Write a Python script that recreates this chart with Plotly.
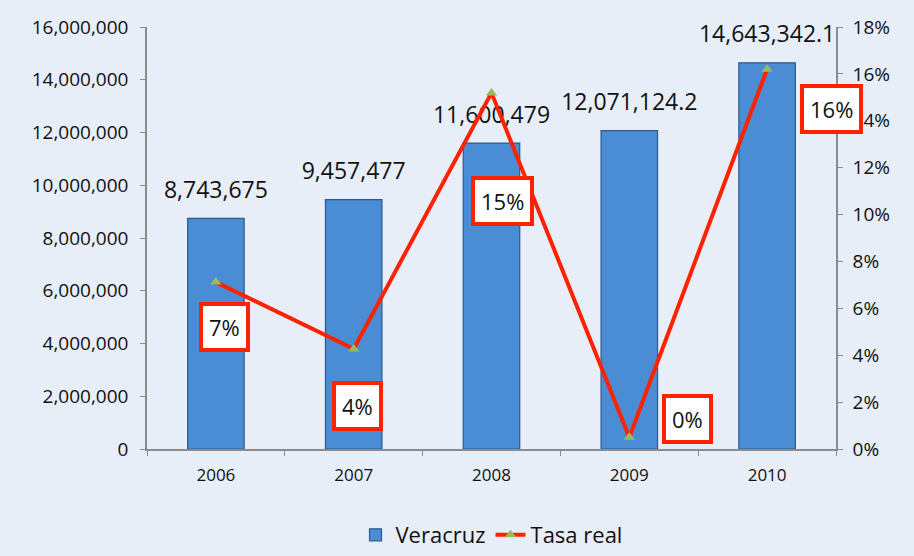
import plotly.graph_objects as go

years = ["2006", "2007", "2008", "2009", "2010"]
veracruz = [8743675, 9457477, 11600479, 12071124.2, 14643342.1]
tasa_real = [0.0712, 0.0427, 0.1519, 0.0050, 0.1620]
bar_labels = ["8,743,675", "9,457,477", "11,600,479", "12,071,124.2", "14,643,342.1"]
pct_labels = ["7%", "4%", "15%", "0%", "16%"]
# label box offsets (px) relative to each line point
box_dx = [9, 4, 11, 58, 64]
box_dy = [-45, -57, -108, 18, -40]

FONT = "Open Sans"
fig = go.Figure()

fig.add_trace(go.Bar(
    x=years, y=veracruz, name="Veracruz", width=0.41,
    marker=dict(color="#4a8dd4", line=dict(color="#2a5a90", width=1.2)),
    yaxis="y",
))
fig.add_trace(go.Scatter(
    x=years, y=veracruz, mode="markers+text", text=bar_labels,
    textposition="top center", showlegend=False, hoverinfo="skip",
    marker=dict(size=22, opacity=0),
    textfont=dict(family=FONT, size=23, color="#111111"),
    yaxis="y", cliponaxis=False,
))
fig.add_trace(go.Scatter(
    x=years, y=tasa_real, name="Tasa real", mode="lines+markers",
    line=dict(color="#ff2200", width=4),
    marker=dict(symbol="triangle-up", size=10, color="#9bbb59"),
    yaxis="y2", cliponaxis=False,
))

for i, (yv, t, dx, dy) in enumerate(zip(tasa_real, pct_labels, box_dx, box_dy)):
    fig.add_annotation(
        x=i, y=yv, xref="x", yref="y2", text=t, showarrow=False,
        xshift=dx, yshift=dy,
        font=dict(family=FONT, size=22, color="#111111"),
        bgcolor="white", bordercolor="#ff2200", borderwidth=4, borderpad=6,
    )

axis_col = "#8c8c8c"
fig.update_layout(
    width=914, height=556,
    margin=dict(l=147, r=78, t=27, b=107, autoexpand=False),
    paper_bgcolor="#e8eef8", plot_bgcolor="#e8eef8",
    font=dict(family=FONT, size=16, color="#111111"),
    xaxis=dict(
        type="category", tickangle=0, range=[-0.5, len(years) - 0.5],
        categoryorder="array", categoryarray=years,
        showline=True, linecolor=axis_col, linewidth=1.5,
        ticks="outside", ticklen=5, tickcolor=axis_col, tickson="boundaries",
        tickfont=dict(size=17), showgrid=False, ticklabelstandoff=10,
        automargin=False,
    ),
    yaxis=dict(
        range=[0, 16000000], dtick=2000000, tickformat=",d",
        showline=True, linecolor=axis_col, linewidth=1.5,
        ticks="outside", ticklen=5, tickcolor=axis_col,
        showgrid=False, zeroline=False, tickfont=dict(size=19),
        ticklabelstandoff=8, automargin=False,
    ),
    yaxis2=dict(
        range=[0, 0.18], dtick=0.02, tickformat=".0%",
        overlaying="y", side="right",
        showline=True, linecolor=axis_col, linewidth=1.5,
        ticks="outside", ticklen=5, tickcolor=axis_col,
        showgrid=False, zeroline=False, tickfont=dict(size=19),
        ticklabelstandoff=6, automargin=False,
    ),
    legend=dict(
        orientation="h", x=0.5, xanchor="center",
        yref="container", y=0.0, yanchor="bottom",
        font=dict(size=22), bgcolor="rgba(0,0,0,0)",
    ),
)

fig.write_html("out.html", post_script="document.body.style.margin='0';",
               config={"displayModeBar": False})
